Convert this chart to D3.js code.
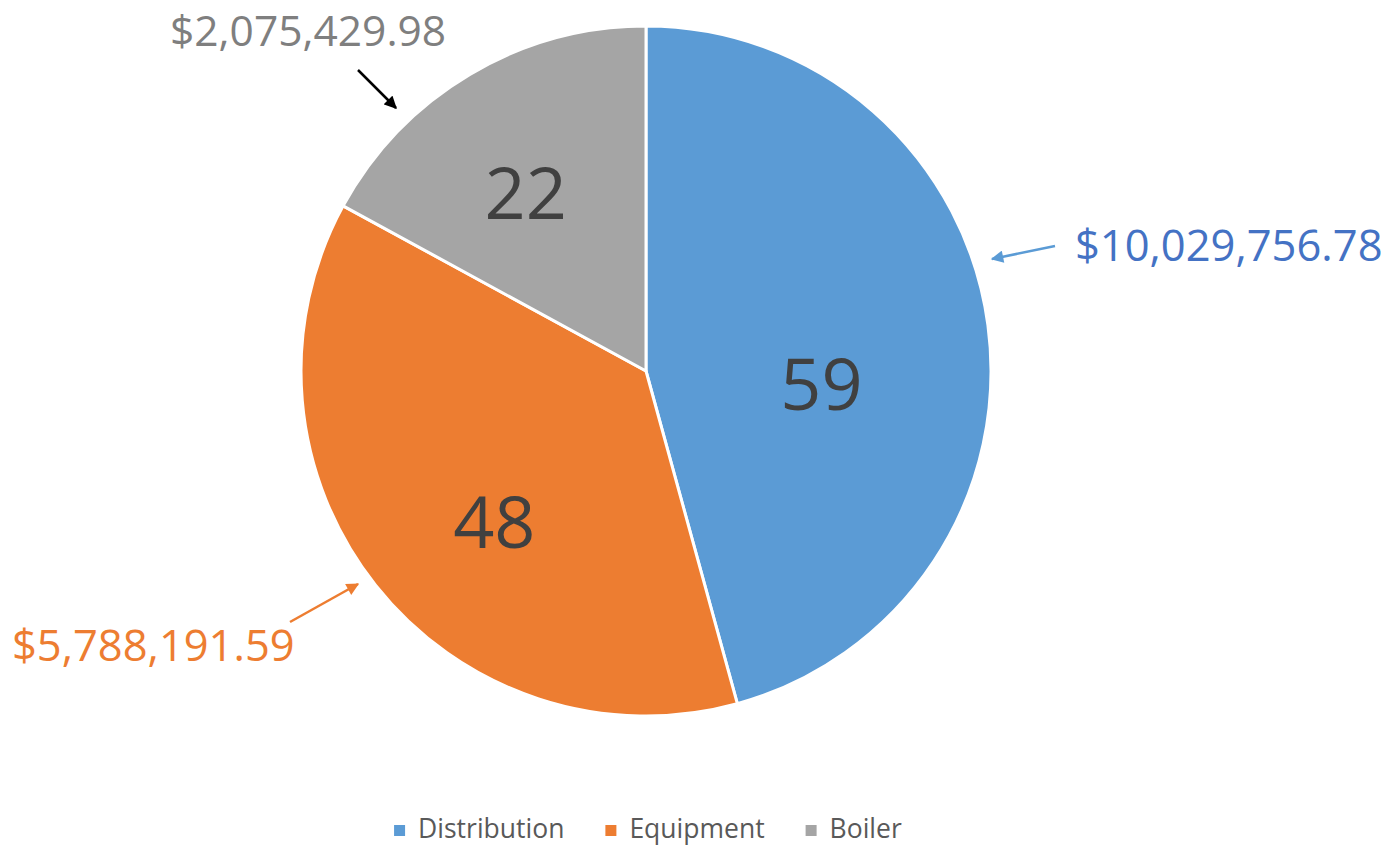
<!DOCTYPE html>
<html>
<head>
<meta charset="utf-8">
<script src="https://cdn.jsdelivr.net/npm/d3@7/dist/d3.min.js"></script>
<style>
  body { margin: 0; background: #fff; }
  svg { display: block; font-family: "Open Sans", "Noto Sans", sans-serif; }
</style>
</head>
<body>
<div id="container"></div>
<script>
// data
const categories = ['Distribution', 'Equipment', 'Boiler'];
const counts = [59, 48, 22];
const amounts = ['$10,029,756.78', '$5,788,191.59', '$2,075,429.98'];
const colors = ['#5B9BD5', '#ED7D31', '#A5A5A5'];
const amountColors = ['#4472C4', '#ED7D31', '#7F7F7F'];

const w = 1386;
const h = 845;
const cx = 646;
const cy = 371;
const radius = 345;

// where excel put the count labels (polar, relative to slice middle)
const countLabelRadius = [176, 214, 215];
const countLabelShift = [12, -6.5, -3.3];

// callouts: text position + arrow from/to
const callouts = [
    { x: 1075, y: 261, size: 43.5, from: [1055, 246], to: [992, 259], stroke: '#5B9BD5' },
    { x: 12, y: 661, size: 43.5, from: [290, 622], to: [358, 584], stroke: '#ED7D31' },
    { x: 170, y: 46, size: 42.5, from: [358, 70], to: [396, 108], stroke: '#000000' }
];

const svg = d3.select('#container').append('svg')
    .attr('width', w)
    .attr('height', h);

const defs = svg.append('defs');
callouts.forEach((c, i) => {
    defs.append('marker')
        .attr('id', 'arrow' + i)
        .attr('viewBox', '0 0 10 10')
        .attr('refX', 9)
        .attr('refY', 5)
        .attr('markerWidth', 5.5)
        .attr('markerHeight', 5)
        .attr('markerUnits', 'strokeWidth')
        .attr('orient', 'auto')
        .append('path')
        .attr('d', 'M0,0 L10,5 L0,10 z')
        .attr('fill', c.stroke);
});

const pie = d3.pie().sort(null).value(d => d)(counts);
const arc = d3.arc().innerRadius(0).outerRadius(radius);

const g = svg.append('g').attr('transform', `translate(${cx},${cy})`);

g.selectAll('path')
    .data(pie)
    .join('path')
    .attr('d', arc)
    .attr('fill', (d, i) => colors[i])
    .attr('stroke', '#fff')
    .attr('stroke-width', 3)
    .attr('stroke-linejoin', 'round');

g.selectAll('text.count')
    .data(pie)
    .join('text')
    .attr('class', 'count')
    .attr('x', (d, i) => {
        const a = (d.startAngle + d.endAngle) / 2 + countLabelShift[i] * Math.PI / 180;
        return countLabelRadius[i] * Math.sin(a);
    })
    .attr('y', (d, i) => {
        const a = (d.startAngle + d.endAngle) / 2 + countLabelShift[i] * Math.PI / 180;
        return -countLabelRadius[i] * Math.cos(a);
    })
    .attr('dy', '0.36em')
    .attr('text-anchor', 'middle')
    .attr('font-size', 72)
    .attr('fill', '#404040')
    .text(d => d.data);

// callout labels with arrows
svg.selectAll('line.callout')
    .data(callouts)
    .join('line')
    .attr('class', 'callout')
    .attr('x1', d => d.from[0])
    .attr('y1', d => d.from[1])
    .attr('x2', d => d.to[0])
    .attr('y2', d => d.to[1])
    .attr('stroke', d => d.stroke)
    .attr('stroke-width', 2.5)
    .attr('marker-end', (d, i) => `url(#arrow${i})`);

svg.selectAll('text.amount')
    .data(callouts)
    .join('text')
    .attr('class', 'amount')
    .attr('x', d => d.x)
    .attr('y', d => d.y)
    .attr('font-size', d => d.size)
    .attr('fill', (d, i) => amountColors[i])
    .text((d, i) => amounts[i]);

// legend
const legend = svg.append('g').attr('class', 'legend');
const items = legend.selectAll('g')
    .data(categories)
    .join('g');

items.append('rect')
    .attr('width', 11)
    .attr('height', 11)
    .attr('y', -13)
    .attr('fill', (d, i) => colors[i]);

items.append('text')
    .attr('x', 24)
    .attr('y', 0)
    .attr('font-size', 26.5)
    .attr('fill', '#595959')
    .text(d => d);

let xPos = 0;
const gap = 41;
items.each(function () {
    const bw = this.getBBox().width;
    d3.select(this).attr('transform', `translate(${xPos},0)`);
    xPos += bw + gap;
});
const total = xPos - gap;
legend.attr('transform', `translate(${648 - total / 2},838)`);
</script>
</body>
</html>
